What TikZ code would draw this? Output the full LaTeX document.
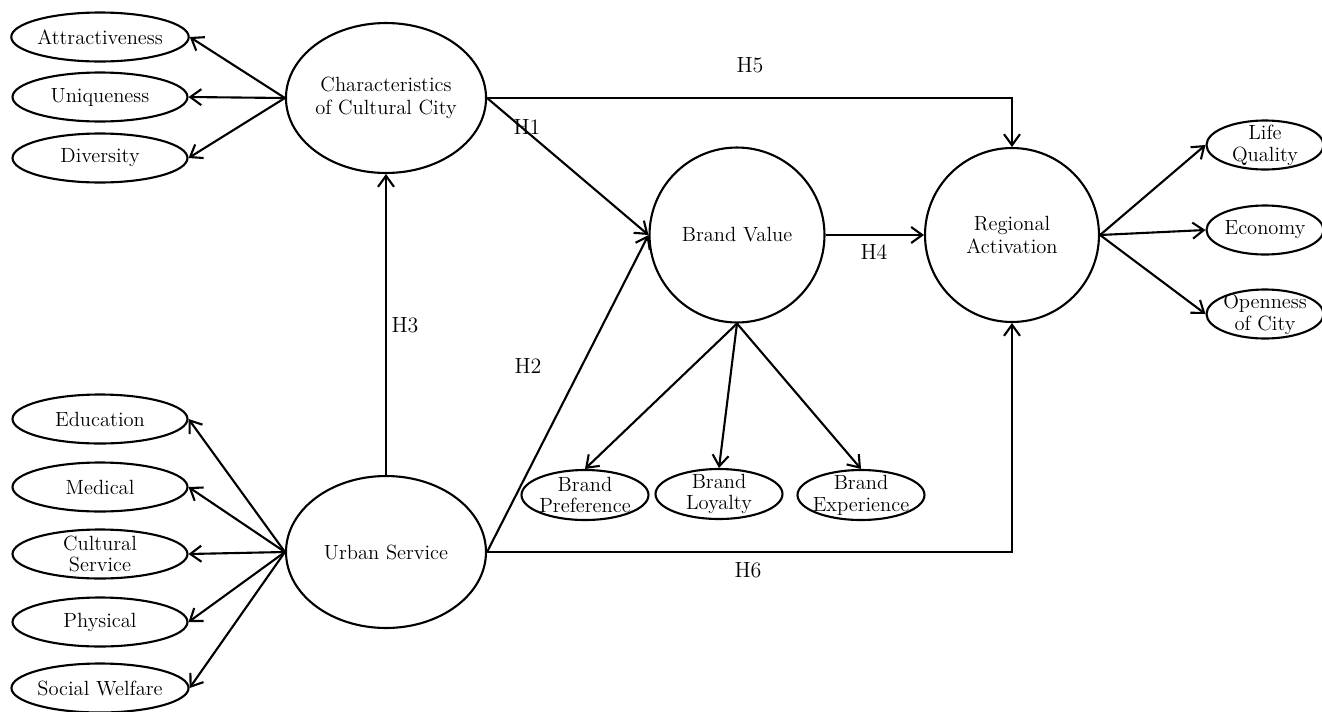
\documentclass[tikz,border=0pt]{standalone}
\usetikzlibrary{shapes.geometric,arrows.meta}
\begin{document}
\begin{tikzpicture}[x=0.02cm,y=-0.02cm,
  every node/.style={font=\fontsize{11.7}{12.8}\selectfont},
  oval/.style={ellipse, draw, line width=1.2pt, inner sep=0pt},
  sm/.style={oval, minimum width=3.5cm, minimum height=0.98cm},
  bsub/.style={oval, minimum width=2.54cm, minimum height=1.0cm},
  rsub/.style={oval, minimum width=2.34cm, minimum height=0.98cm},
  big/.style={oval, align=center},
  txt/.style={align=center, inner sep=0pt, font=\fontsize{11.7}{12.4}\selectfont},
  arr/.style={line width=1.2pt, -{Straight Barb[length=2.2mm,width=3.2mm,line width=1.2pt]}},
  hl/.style={font=\fontsize{12.5}{13}\selectfont}]
\useasboundingbox (0,0) rectangle (1322,711);
% left top indicators
\node[sm] (att) at (100,37) {Attractiveness};
\node[sm] (uni) at (100,97) {Uniqueness};
\node[sm] (div) at (100,158) {Diversity};
% left bottom indicators
\node[sm] (edu) at (100,419) {Education};
\node[sm] (med) at (100,487) {Medical};
\node[sm, label={[txt]center:Cultural\\Service}] (cul) at (100,554) {};
\node[sm] (phy) at (100,622) {Physical};
\node[sm] (soc) at (100,688) {Social Welfare};
% constructs
\node[big, minimum width=3.92cm, minimum height=3.0cm] (cc) at (386,98) {Characteristics\\of Cultural City};
\node[big, minimum width=4.0cm, minimum height=3.04cm] (us) at (386,552) {Urban Service};
\node[big, minimum width=3.5cm, minimum height=3.5cm] (bv) at (737,235) {Brand Value};
\node[big, minimum width=3.48cm, minimum height=3.48cm] (ra) at (1012,235) {Regional\\Activation};
% brand subs
\node[bsub, label={[txt]center:Brand\\Preference}] (bp) at (585,495) {};
\node[bsub, label={[txt]center:Brand\\Loyalty}] (bl) at (719,494) {};
\node[bsub, label={[txt]center:Brand\\Experience}] (be) at (861,495) {};
% right indicators
\node[rsub, label={[txt]center:Life\\Quality}] (lq) at (1265,145) {};
\node[rsub] (eco) at (1265,230) {Economy};
\node[rsub, label={[txt]center:Openness\\of City}] (opc) at (1265,314) {};
% measurement arrows
\draw[arr] (cc.west) -- (att.east);
\draw[arr] (cc.west) -- (uni.east);
\draw[arr] (cc.west) -- (div.east);
\draw[arr] (us.west) -- (edu.east);
\draw[arr] (us.west) -- (med.east);
\draw[arr] (us.west) -- (cul.east);
\draw[arr] (us.west) -- (phy.east);
\draw[arr] (us.west) -- (soc.east);
\draw[arr] (bv.south) -- (bp.north);
\draw[arr] (bv.south) -- (bl.north);
\draw[arr] (bv.south) -- (be.north);
\draw[arr] (ra.east) -- (lq.west);
\draw[arr] (ra.east) -- (eco.west);
\draw[arr] (ra.east) -- (opc.west);
% structural paths
\draw[arr] (cc.east) -- (bv.west);
\draw[arr] (us.east) -- (bv.west);
\draw[arr] (us.north) -- (cc.south);
\draw[arr] (bv.east) -- (ra.west);
\draw[arr] (cc.east) -| (ra.north);
\draw[arr] (us.east) -| (ra.south);
% labels
\node[hl] (h1) at (527,127) {H1};
\node[hl] (h2) at (528,366) {H2};
\node[hl] (h3) at (405,325) {H3};
\node[hl] (h4) at (874,252) {H4};
\node[hl] (h5) at (750,65) {H5};
\node[hl] (h6) at (748,570) {H6};
\end{tikzpicture}
\end{document}
